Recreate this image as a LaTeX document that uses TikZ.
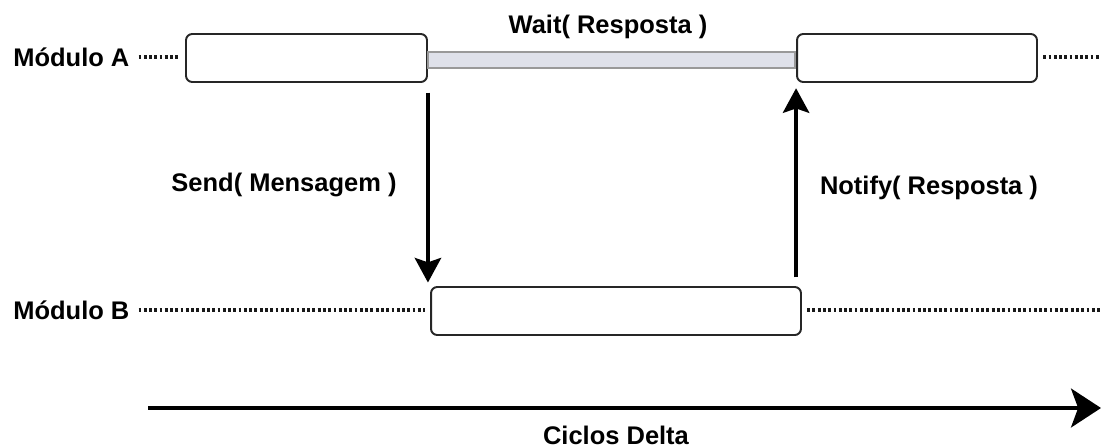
\documentclass[tikz,border=0pt]{standalone}
\usepackage{fontspec}
\setmainfont{Liberation Sans}
\usepackage{tikz}
\usetikzlibrary{arrows.meta}
\definecolor{waitfill}{RGB}{223,225,234}

\begin{document}
\begin{tikzpicture}[x=0.02cm,y=-0.02cm,
  lbl/.style={inner sep=0pt,font=\bfseries\fontsize{14.5}{17}\selectfont},
  box/.style={draw=black!85,line width=1.1pt,rounded corners=3.5pt,fill=white,minimum height=0.96cm},
  dotline/.style={line width=1.8pt,dash pattern=on 1.6pt off 1.4pt,black!90},
  flow/.style={line width=2.1pt,-{Stealth[length=14pt,width=15pt,inset=2.5pt]}},
  timeline/.style={line width=2.8pt,-{Stealth[length=17pt,width=22pt,inset=4pt]}}]
\useasboundingbox (0,0) rectangle (1101,447);
\node[lbl,anchor=west] (modA) at (13,57) {Módulo A};
\node[lbl,anchor=west] (modB) at (13,310) {Módulo B};
\node[box,minimum width=4.82cm] (a1) at (306.5,58) {};
\node[box,minimum width=4.8cm] (a2) at (917,58) {};
\node[box,minimum width=7.4cm] (b) at (616,311) {};
\node[draw=black!40,fill=waitfill,line width=0.9pt,inner sep=0pt,minimum width=7.34cm,minimum height=0.32cm] (w) at (611.5,60) {};
\coordinate (endA) at (1101,57);
\coordinate (endB) at (1101,310);
\draw[dotline] ([xshift=5pt]modA.east) -- ([xshift=-3pt]a1.west |- modA.east);
\draw[dotline] ([xshift=3pt]a2.east |- endA) -- (endA);
\draw[dotline] ([xshift=5pt]modB.east) -- ([xshift=-3pt]b.west |- modB.east);
\draw[dotline] ([xshift=3pt]b.east |- endB) -- (endB);
\node[lbl] (waitlbl) at (608,27) {Wait( Resposta )};
% mensagem e resposta
\draw[flow] ([yshift=-5.5pt]a1.south east) -- ([yshift=2pt]a1.south east |- b.north);
\draw[flow] ([yshift=5pt]a2.south west |- b.north) -- ([yshift=-3pt]a2.south west);
\node[lbl] (send) at (284,185) {Send( Mensagem )};
\node[lbl] (notify) at (929,188) {Notify( Resposta )};
% eixo do tempo
\coordinate (t0) at (148,408);
\coordinate (t1) at (1101,408);
\draw[timeline] (t0) -- (t1);
\node[lbl,anchor=base] (ciclos) at (616,444) {Ciclos Delta};
\end{tikzpicture}
\end{document}
